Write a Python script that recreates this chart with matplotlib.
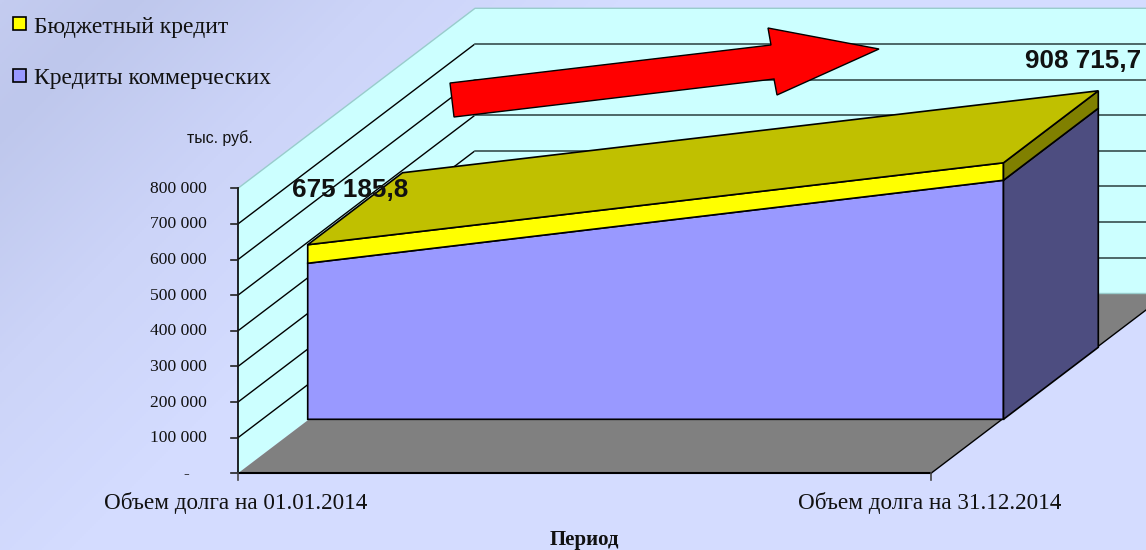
import numpy as np
import matplotlib
matplotlib.use('Agg')
import matplotlib.pyplot as plt
from matplotlib.colors import LinearSegmentedColormap

# данные графика
periods = ['Объем долга на 01.01.2014', 'Объем долга на 31.12.2014']
commercial = [438000, 671000]
budget = [52000, 49000]
total_labels = ['675 185,8', '908 715,7']
y_ticks = [0, 100000, 200000, 300000, 400000, 500000, 600000, 700000, 800000]
y_tick_labels = ['-', '100 000', '200 000', '300 000', '400 000', '500 000', '600 000', '700 000', '800 000']
legend_names = ['Бюджетный кредит', 'Кредиты коммерческих']

# геометрия псевдо-3D в пикселях
X0, Y0 = 238, 473.3
WIDTH = 693
PX_PER_UNIT = 285 / 800000
DEPTH_X, DEPTH_Y = 237, -180
BAR_D0, BAR_D1 = 0.30, 0.70
BAR_C0, BAR_C1 = -0.002, 1.002


def proj(cat, val, depth):
    # cat 0..1 по ширине, val в тыс. руб., depth 0..1 в глубину
    return (X0 + cat * WIDTH + depth * DEPTH_X,
            Y0 - val * PX_PER_UNIT + depth * DEPTH_Y)


def face(pts, color, ec='black', lw=1.2, z=2):
    ax.fill([p[0] for p in pts], [p[1] for p in pts], facecolor=color,
            edgecolor=ec, linewidth=lw, zorder=z, joinstyle='miter')


fig = plt.figure(figsize=(11.46, 5.5), dpi=100)
ax = fig.add_axes([0, 0, 1, 1])
ax.set_xlim(0, 1146)
ax.set_ylim(550, 0)
ax.axis('off')

# фон с градиентом
yy, xx = np.mgrid[0:550:2, 0:1146:2]
t = np.clip((xx + yy) / 620, 0, 1)
cmap = LinearSegmentedColormap.from_list('bg', [(0, '#c4ccf0'), (0.2, '#bec7ec'), (0.6, '#ccd4f8'), (1, '#d4dcff')])
ax.imshow(t, cmap=cmap, extent=(0, 1146, 550, 0), aspect='auto', zorder=0, vmin=0, vmax=1)

# стены и пол
top = y_ticks[-1]
face([proj(0, 0, 0), proj(0, top, 0), proj(0, top, 1), proj(0, 0, 1)], '#ccffff', ec='none', lw=0, z=1)
face([proj(0, 0, 1), proj(0, top, 1), proj(1, top, 1), proj(1, 0, 1)], '#ccffff', ec='none', lw=0, z=1)
face([proj(0, 0, 0), proj(1, 0, 0), proj(1, 0, 1), proj(0, 0, 1)], '#808080', ec='none', lw=0, z=1)

# верхняя кромка стены и нижняя грань пола
ax.plot(*zip(proj(0, top, 0), proj(0, top, 1), proj(1, top, 1)), color='#99cccc', lw=1, zorder=1.5)
ax.plot(*zip(proj(0, 0, 1), proj(1, 0, 1)), color='#99cccc', lw=1, zorder=1.5)
ax.plot(*zip(proj(1, 0, 0), proj(1, 0, 1)), color='black', lw=1, zorder=1.5)
ax.plot(*zip(proj(0, 0, 0), proj(1, 0, 0)), color='black', lw=1.5, zorder=1.5)
ax.plot(*zip(proj(0, 0, 0), proj(0, top, 0)), color='black', lw=1.2, zorder=1.5)

# линии сетки и подписи оси
for v, lab in zip(y_ticks, y_tick_labels):
    if 0 < v < top:
        ax.plot(*zip(proj(0, v, 0), proj(0, v, 0.995)), color='black', lw=1, zorder=1.5)
        ax.plot(*zip(proj(0, v, 1), proj(1, v, 1)), color='#2a3f3f', lw=1.1, zorder=1.5)
    x, y = proj(0, v, 0)
    ax.plot([x - 7, x], [y, y], color='#222222', lw=1.2, zorder=1.5)
    ax.text(207 if v > 0 else 189, y + 0.5, lab, ha='right', va='center', fontsize=12.6,
            family='Liberation Serif', color='#111111')

# метки категорий
for cat, name in enumerate(periods):
    x, y = proj(cat, 0, 0)
    ax.plot([x, x], [y, y + 7], color='#444444', lw=1.2, zorder=1.5)
ax.text(236, 503.5, periods[0], ha='center', va='center', fontsize=16.7, family='Liberation Serif', color='#111111')
ax.text(930, 503.5, periods[1], ha='center', va='center', fontsize=16.7, family='Liberation Serif', color='#111111')
ax.text(584, 540, 'Период', ha='center', va='center', fontsize=15, family='Liberation Serif',
        fontweight='bold', color='#111111')
ax.text(220, 138, 'тыс. руб.', ha='center', va='center', fontsize=11.4, family='Liberation Sans', color='#111111')

# объемная область: кредиты коммерческих и бюджетный кредит
c0, c1 = commercial
s0, s1 = c0 + budget[0], c1 + budget[1]
face([proj(BAR_C0, 0, BAR_D0), proj(BAR_C1, 0, BAR_D0), proj(BAR_C1, c1, BAR_D0), proj(BAR_C0, c0, BAR_D0)], '#9999ff', z=3)
face([proj(BAR_C1, 0, BAR_D0), proj(BAR_C1, 0, BAR_D1), proj(BAR_C1, c1, BAR_D1), proj(BAR_C1, c1, BAR_D0)], '#4d4d80', z=3)
face([proj(BAR_C0, c0, BAR_D0), proj(BAR_C1, c1, BAR_D0), proj(BAR_C1, s1, BAR_D0), proj(BAR_C0, s0, BAR_D0)], '#ffff00', z=4)
face([proj(BAR_C1, c1, BAR_D0), proj(BAR_C1, c1, BAR_D1), proj(BAR_C1, s1, BAR_D1), proj(BAR_C1, s1, BAR_D0)], '#808000', z=4)
face([proj(BAR_C0, s0, BAR_D0), proj(BAR_C1, s1, BAR_D0), proj(BAR_C1, s1, BAR_D1), proj(BAR_C0, s0, BAR_D1)], '#c0c000', z=4)

# подписи значений
ax.text(350, 190, total_labels[0], ha='center', va='center', fontsize=18.7, family='Liberation Sans',
        fontweight='bold', color='#111111', zorder=6)
ax.text(1083, 61, total_labels[1], ha='center', va='center', fontsize=18.7, family='Liberation Sans',
        fontweight='bold', color='#111111', zorder=6)

# красная стрелка
arrow_x = [450, 454, 774, 777, 879, 768, 771]
arrow_y = [83, 117, 79, 95, 49, 28, 45]
ax.fill(arrow_x, arrow_y, facecolor='#ff0000', edgecolor='black', linewidth=1, zorder=5, joinstyle='miter')

# легенда
for y, name, col in zip([23.5, 75], legend_names, ['#ffff00', '#9999ff']):
    ax.fill([12.5, 26, 26, 12.5], [y - 6.5, y - 6.5, y + 6.5, y + 6.5], facecolor=col, edgecolor='black', linewidth=1.2, zorder=5)
    ax.text(34, y + 3.5, name, ha='left', va='center', fontsize=17, family='Liberation Serif', color='#111111')

fig.savefig('out.png', dpi=100)
